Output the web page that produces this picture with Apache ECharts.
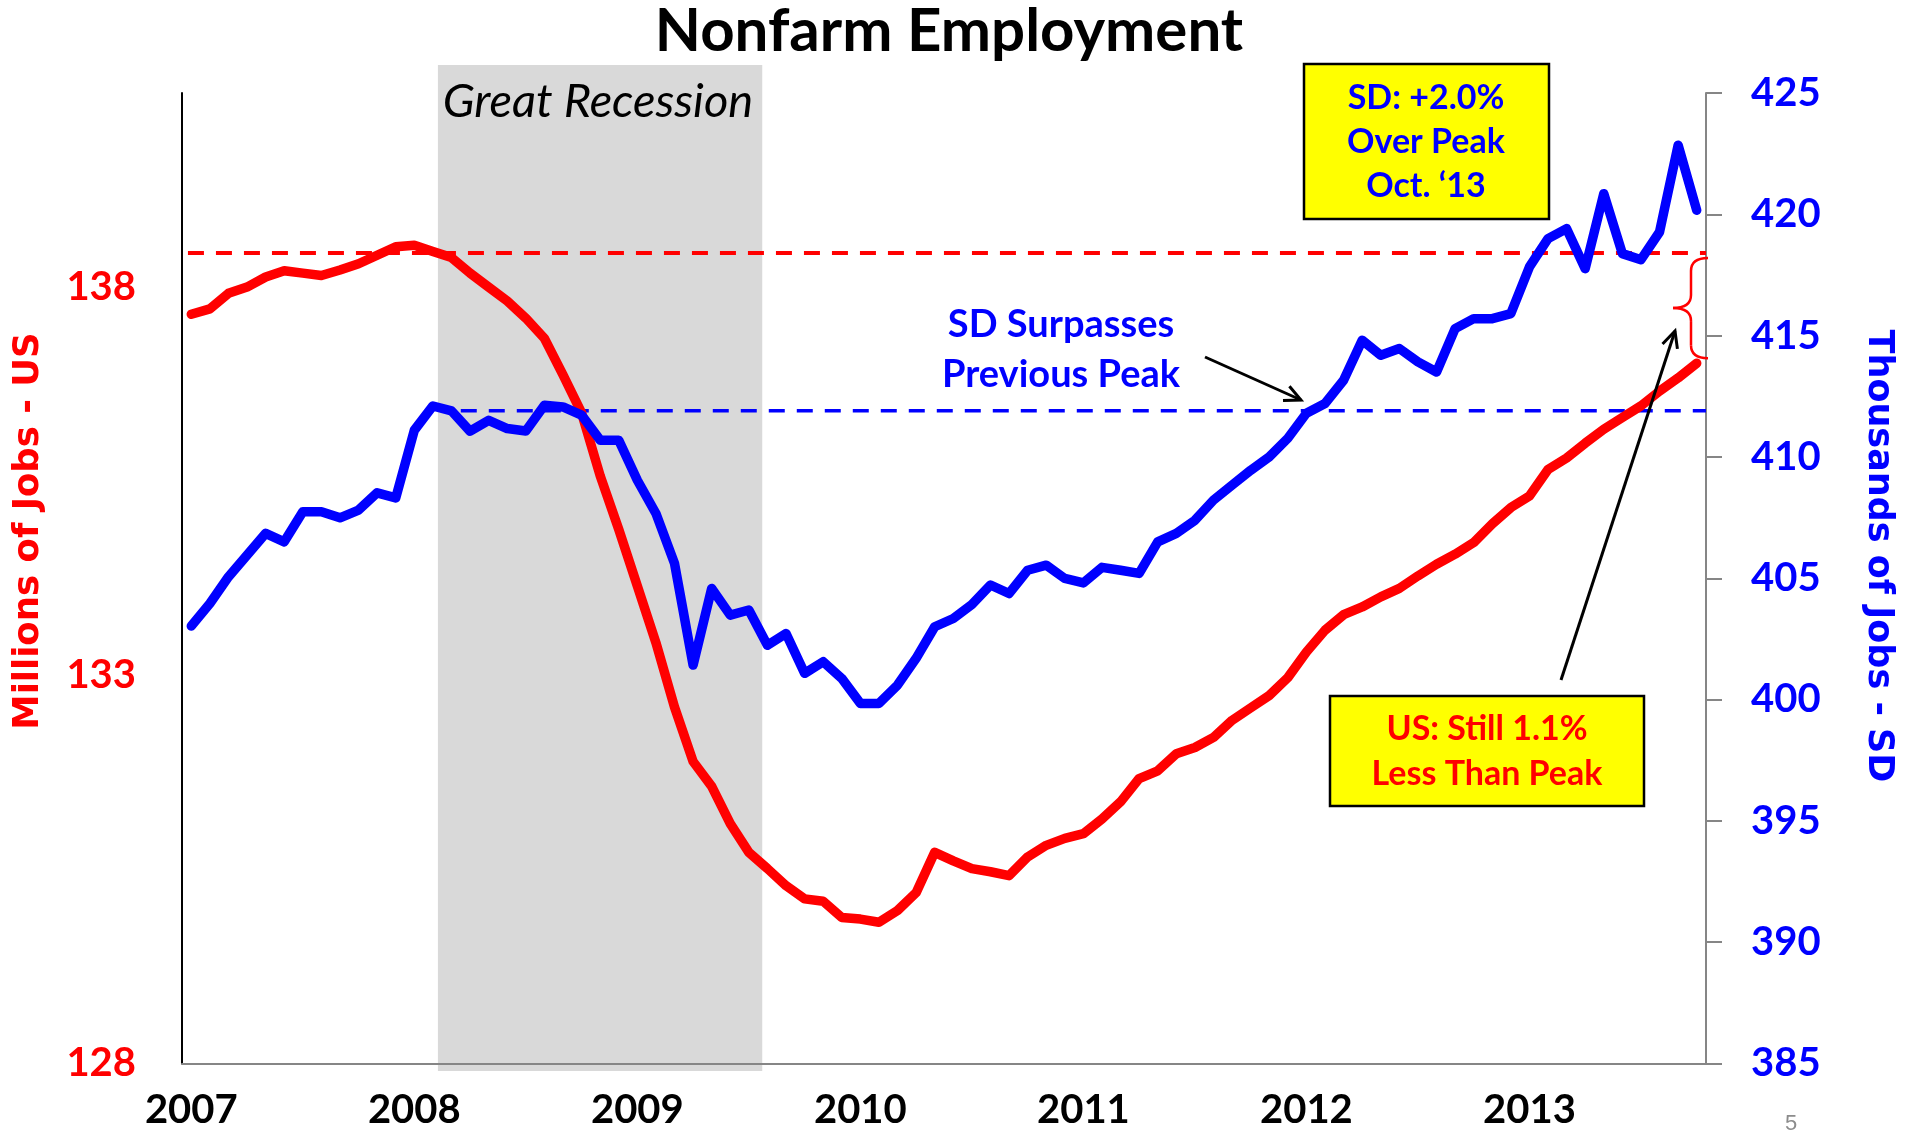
<!DOCTYPE html>
<html>
<head>
<meta charset="utf-8">
<title>Nonfarm Employment</title>
<script src="https://cdn.jsdelivr.net/npm/echarts@6/dist/echarts.min.js"></script>
<style>
html, body { margin: 0; padding: 0; background: #fff; }
#chart { width: 1915px; height: 1131px; }
</style>
</head>
<body>
<div id="chart"></div>
<script>
// one category per month, Jan 2007 .. Oct 2013
const months = [];
for (let y = 2007; y <= 2013; y++) {
    for (let m = 1; m <= 12; m++) {
        if (y === 2013 && m > 10) break;
        months.push(y + '-' + String(m).padStart(2, '0'));
    }
}

// US nonfarm jobs, millions (left axis)
const usJobs = [
    137.65, 137.72, 137.92, 138.00, 138.13, 138.21, 138.18, 138.15, 138.22, 138.30, 138.41, 138.52,
    138.54, 138.46, 138.38, 138.18, 138.00, 137.82, 137.60, 137.34, 136.87, 136.38, 135.57, 134.88,
    134.15, 133.42, 132.59, 131.89, 131.57, 131.09, 130.72, 130.51, 130.29, 130.12, 130.09, 129.88,
    129.86, 129.82, 129.97, 130.20, 130.72, 130.61, 130.51, 130.47, 130.42, 130.66, 130.81, 130.90,
    130.96, 131.15, 131.37, 131.67, 131.77, 131.99, 132.07, 132.20, 132.42, 132.58, 132.74, 132.97,
    133.30, 133.58, 133.78, 133.88, 134.01, 134.12, 134.28, 134.43, 134.56, 134.71, 134.95, 135.16,
    135.31, 135.65, 135.80, 135.99, 136.17, 136.32, 136.47, 136.66, 136.83, 137.02
];

// South Dakota nonfarm jobs, thousands (right axis)
const sdJobs = [
    403.03, 403.96, 405.06, 405.95, 406.85, 406.50, 407.74, 407.74, 407.49, 407.81, 408.52, 408.31,
    411.10, 412.10, 411.90, 411.06, 411.51, 411.17, 411.07, 412.13, 412.06, 411.72, 410.69, 410.69,
    409.04, 407.67, 405.61, 401.42, 404.58, 403.48, 403.69, 402.24, 402.72, 401.08, 401.56, 400.87,
    399.84, 399.84, 400.60, 401.70, 403.00, 403.34, 403.92, 404.72, 404.37, 405.33, 405.54, 404.99,
    404.81, 405.45, 405.33, 405.20, 406.50, 406.85, 407.39, 408.22, 408.84, 409.45, 410.00, 410.77,
    411.80, 412.20, 413.16, 414.81, 414.19, 414.47, 413.92, 413.50, 415.29, 415.70, 415.70, 415.91,
    417.83, 419.00, 419.41, 417.76, 420.85, 418.38, 418.13, 419.27, 422.85, 420.17
];

const usTicks = [128, 133, 138];
const usPeak = 138.44;
const sdPeak = 411.9;
const sdPeakFrom = 14.5;          // month index where the SD reference line starts
const recession = [13.27, 30.72]; // shaded span, in month-index units

const FONT = 'Lato';
const RED = '#FF0000';
const BLUE = '#0000FF';
const AXIS_GREY = '#868686';

const chart = echarts.init(document.getElementById('chart'));

const option = {
    animation: false,
    grid: { left: 182, right: 209, top: 93, bottom: 67.5 },
    xAxis: [
        {
            type: 'category',
            data: months,
            boundaryGap: true,
            axisLine: { onZero: false, lineStyle: { color: AXIS_GREY, width: 2 } },
            axisTick: { show: false },
            splitLine: { show: false },
            axisLabel: {
                interval: (i) => i % 12 === 0,
                formatter: (v) => v.slice(0, 4),
                color: '#000',
                fontFamily: FONT,
                fontWeight: 'bold',
                fontSize: 40,
                margin: 27
            }
        },
        // helper axis in month-index units for the reference lines
        { type: 'value', min: -0.5, max: months.length - 0.5, show: false }
    ],
    yAxis: [
        {
            type: 'value',
            position: 'left',
            min: 128,
            max: 140.5,
            interval: 5,
            axisLine: { show: true, onZero: false, lineStyle: { color: '#000', width: 2 } },
            axisTick: { show: false },
            splitLine: { show: false },
            axisLabel: {
                formatter: (v) => usTicks.includes(v) ? String(v) : '',
                color: RED,
                fontFamily: FONT,
                fontWeight: 'bold',
                fontSize: 40,
                margin: 46
            }
        },
        {
            type: 'value',
            position: 'right',
            min: 385,
            max: 425,
            interval: 5,
            axisLine: { show: true, onZero: false, lineStyle: { color: AXIS_GREY, width: 2 } },
            axisTick: { show: true, length: 16, lineStyle: { color: AXIS_GREY, width: 2 } },
            splitLine: { show: false },
            axisLabel: {
                color: BLUE,
                fontFamily: FONT,
                fontWeight: 'bold',
                fontSize: 40,
                margin: 45
            }
        }
    ],
    series: [
        {
            name: 'US peak',
            type: 'line',
            xAxisIndex: 1,
            yAxisIndex: 0,
            data: [[-0.18, usPeak], [months.length - 0.5, usPeak]],
            showSymbol: false,
            lineStyle: { color: RED, width: 4, type: [16, 12] },
            z: 3
        },
        {
            name: 'SD peak',
            type: 'line',
            xAxisIndex: 1,
            yAxisIndex: 1,
            data: [[sdPeakFrom, sdPeak], [months.length - 0.5, sdPeak]],
            showSymbol: false,
            lineStyle: { color: BLUE, width: 3.5, type: [16, 12] },
            z: 3
        },
        {
            name: 'US',
            type: 'line',
            xAxisIndex: 0,
            yAxisIndex: 0,
            data: usJobs,
            showSymbol: false,
            lineStyle: { color: RED, width: 9.5, cap: 'round', join: 'round' },
            z: 4
        },
        {
            name: 'SD',
            type: 'line',
            xAxisIndex: 0,
            yAxisIndex: 1,
            data: sdJobs,
            showSymbol: false,
            lineStyle: { color: BLUE, width: 9.5, cap: 'round', join: 'round' },
            z: 5
        }
    ]
};

chart.setOption(option);

// annotations, placed after layout so the shade and brace follow the scales
function text(x, y, str, size, color, extra) {
    return {
        type: 'text', x: x, y: y, z: 100,
        style: Object.assign({
            text: str, fill: color, fontFamily: FONT, fontWeight: 'bold',
            fontSize: size, align: 'center', verticalAlign: 'middle'
        }, extra || {})
    };
}

function arrow(x1, y1, x2, y2) {
    const a = Math.atan2(y2 - y1, x2 - x1);
    const len = 18, spread = 0.45;
    return [
        { type: 'line', z: 100, shape: { x1: x1, y1: y1, x2: x2, y2: y2 },
          style: { stroke: '#000', lineWidth: 3 } },
        { type: 'polyline', z: 100,
          shape: { points: [
              [x2 - len * Math.cos(a - spread), y2 - len * Math.sin(a - spread)],
              [x2, y2],
              [x2 - len * Math.cos(a + spread), y2 - len * Math.sin(a + spread)]
          ] },
          style: { stroke: '#000', lineWidth: 3, fill: null } }
    ];
}

const shadeL = chart.convertToPixel({ xAxisIndex: 1 }, recession[0]);
const shadeR = chart.convertToPixel({ xAxisIndex: 1 }, recession[1]);

// red brace between the US peak line and the last US value
const braceTop = chart.convertToPixel({ yAxisIndex: 0 }, usPeak) + 5;
const braceBot = chart.convertToPixel({ yAxisIndex: 0 }, usJobs[usJobs.length - 1]) - 5;
const braceMid = (braceTop + braceBot) / 2;
const bx = 1691, bl = 1673, br = 1708, r = 13;
const braceStyle = { stroke: RED, lineWidth: 2.5, fill: null };
function curve(x1, y1, cx, cy, x2, y2) {
    return { type: 'bezierCurve', z: 100,
             shape: { x1: x1, y1: y1, cpx1: cx, cpy1: cy, x2: x2, y2: y2 },
             style: braceStyle };
}
const brace = [
    curve(br, braceTop, bx, braceTop, bx, braceTop + r),
    { type: 'line', z: 100, shape: { x1: bx, y1: braceTop + r, x2: bx, y2: braceMid - r }, style: braceStyle },
    curve(bx, braceMid - r, bx, braceMid, bl, braceMid),
    curve(bl, braceMid, bx, braceMid, bx, braceMid + r),
    { type: 'line', z: 100, shape: { x1: bx, y1: braceMid + r, x2: bx, y2: braceBot - r }, style: braceStyle },
    curve(bx, braceBot - r, bx, braceBot, br, braceBot)
];

const leftTitle = text(29, 531, 'Millions of Jobs - US', 35.5, RED, { fontFamily: 'DejaVu Sans' });
leftTitle.rotation = Math.PI / 2;
const rightTitle = text(1878, 556, 'Thousands of Jobs - SD', 35, BLUE, { fontFamily: 'DejaVu Sans' });
rightTitle.rotation = -Math.PI / 2;

const elements = [
    { type: 'rect', z: -1,
      shape: { x: shadeL, y: 65, width: shadeR - shadeL, height: 1006 },
      style: { fill: '#D9D9D9' } },
    text(598, 102, 'Great Recession', 47, '#000', { fontWeight: 'normal', fontStyle: 'italic' }),
    text(949, 32, 'Nonfarm Employment', 60, '#000'),
    leftTitle,
    rightTitle,

    { type: 'rect', z: 99, shape: { x: 1304, y: 64, width: 245, height: 155 },
      style: { fill: '#FFFF00', stroke: '#000', lineWidth: 2.5 } },
    text(1426, 98, 'SD: +2.0%', 34, BLUE),
    text(1426, 142, 'Over Peak', 34, BLUE),
    text(1426, 186, 'Oct. \u201813', 34, BLUE),

    { type: 'rect', z: 99, shape: { x: 1330, y: 696, width: 314, height: 110 },
      style: { fill: '#FFFF00', stroke: '#000', lineWidth: 2.5 } },
    text(1487, 729, 'US: Still 1.1%', 34, RED),
    text(1487, 774, 'Less Than Peak', 34, RED),

    text(1061, 325, 'SD Surpasses', 38, BLUE),
    text(1061, 375, 'Previous Peak', 38, BLUE),

    text(1791, 1124, '5', 22, '#8C8C8C', { fontWeight: 'normal', fontFamily: 'Liberation Sans' })
].concat(brace, arrow(1205, 357, 1301, 400), arrow(1561, 680, 1675, 331));

chart.setOption({ graphic: { elements: elements } });
</script>
</body>
</html>
